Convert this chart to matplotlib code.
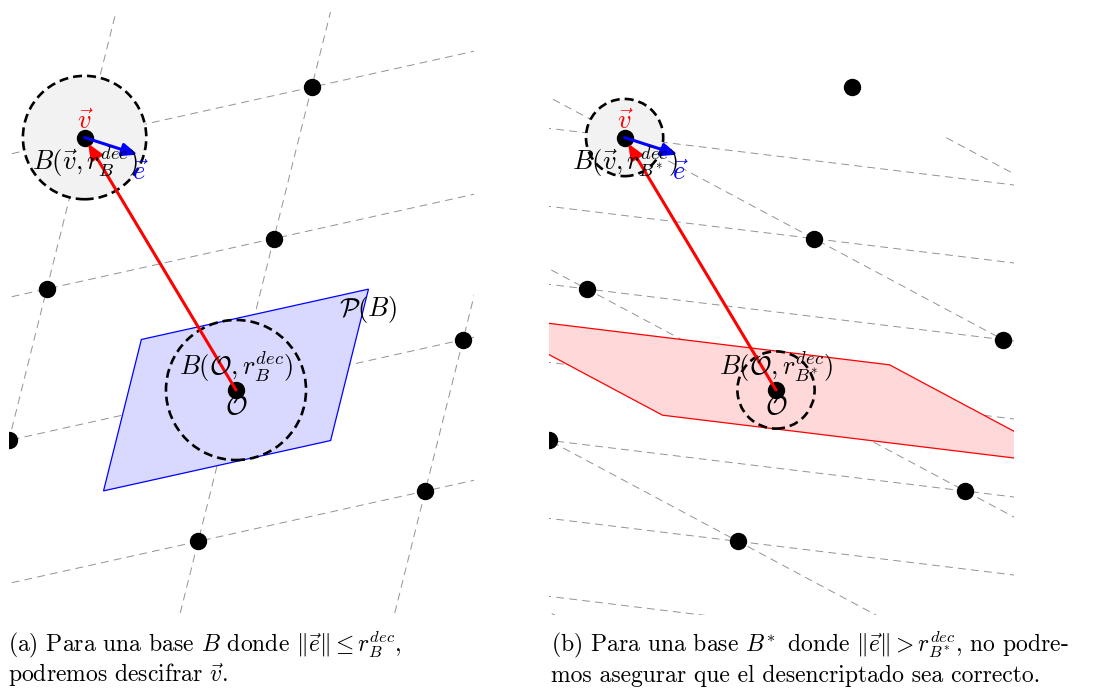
import matplotlib
matplotlib.use("Agg")
import matplotlib.pyplot as plt
import numpy as np
from matplotlib.patches import Polygon, Circle, Rectangle, FancyArrowPatch

plt.rcParams['mathtext.fontset'] = 'cm'
plt.rcParams['font.family'] = 'cmr10'
plt.rcParams['axes.formatter.use_mathtext'] = True
plt.rcParams['lines.scale_dashes'] = False

# lattice data (units: 1 unit ~ 1 cm of the original drawing)
good_b1 = np.array([1.0, 4.0])
good_b2 = np.array([6.0, 1.33])
# bad basis B* = {-b1 + b2, -b1 + 2 b2}, same lattice
bad_b1 = -good_b1 + good_b2
bad_b2 = -good_b1 + 2 * good_b2

lattice_idx = [-3, -2, -1, 0, 1, 2, 3]
line_extent = 3.5
v_coeffs = (2, -1)                 # v = 2 b1 - b2
e_vec = np.array([1.40, -0.45])    # error vector
clip_box = (-6.0, -5.95, 6.3, 10.0)

radius_good_O = 1.85
radius_good_v = 1.63
radius_bad = 1.02

caption_a = [r"(a) Para una base $B$ donde $\Vert\vec{e}\Vert \leq r_B^{dec}$,",
             r"podremos descifrar $\vec{v}$."]
caption_b = [r"(b) Para una base $B^{\!*}$ donde $\Vert\vec{e}\Vert > r_{B^{\!*}}^{dec}$, no podre-",
             r"mos asegurar que el desencriptado sea correcto."]

S = 37.85  # px per unit
FW, FH = 1093, 688
LABEL_FS = 19
CAP_FS = 17


def make_axes(fig, px_left, px_right, ox, oy, px_bottom=625):
    ax = fig.add_axes([px_left / FW, (FH - px_bottom) / FH,
                       (px_right - px_left) / FW, px_bottom / FH])
    ax.set_xlim((px_left - ox) / S, (px_right - ox) / S)
    ax.set_ylim((oy - px_bottom) / S, oy / S)
    ax.axis('off')
    return ax


def draw_panel(ax, basis, face, edge, r_O, r_v, rsub, poly_label=None):
    u, w = basis
    xmin, ymin, xmax, ymax = clip_box
    clip = Rectangle((xmin, ymin), xmax - xmin, ymax - ymin, transform=ax.transData)

    # grid lines of the basis
    t = np.array([-line_extent, line_extent])
    for k in lattice_idx:
        for a, c in ((u, w), (w, u)):
            pts = np.outer(t, a) + k * c
            ln, = ax.plot(pts[:, 0], pts[:, 1], color='#939393', lw=0.7,
                          dashes=(5.6, 3.8), zorder=1)
            ln.set_clip_path(clip)

    # fundamental parallelepiped centred in O
    verts = [-u / 2 - w / 2, u / 2 - w / 2, u / 2 + w / 2, -u / 2 + w / 2]
    poly = Polygon(verts, closed=True, facecolor=face, edgecolor=edge, lw=0.9, zorder=2)
    ax.add_patch(poly)
    poly.set_clip_path(clip)
    if poly_label:
        vx, vy = u / 2 + w / 2
        ax.text(vx, vy - 0.55, poly_label, ha='center', va='center', fontsize=LABEL_FS, zorder=6)

    v = v_coeffs[0] * good_b1 + v_coeffs[1] * good_b2

    ax.add_patch(Circle((0, 0), r_O, fill=False, ec='black', lw=1.9,
                        ls=(0, (6.5, 3.6)), zorder=3))
    ax.add_patch(Circle(v, r_v, facecolor='#f2f2f2', ec='black', lw=1.9,
                        ls=(0, (6.5, 3.6)), zorder=3))

    # lattice points
    pts = np.array([i * good_b1 + j * good_b2 for i in lattice_idx for j in lattice_idx])
    dots, = ax.plot(pts[:, 0], pts[:, 1], 'o', ms=11.5, color='black', zorder=5)
    dots.set_clip_path(clip)

    ax.add_patch(FancyArrowPatch(v, v + e_vec, arrowstyle='-|>,head_length=0.9,head_width=0.38',
                                 mutation_scale=10, color='blue', lw=2.2, shrinkA=0, shrinkB=0,
                                 zorder=6))
    ax.add_patch(FancyArrowPatch((0, 0), v, arrowstyle='-|>,head_length=0.9,head_width=0.38',
                                 mutation_scale=10, color='red', lw=2.2, shrinkA=0, shrinkB=5,
                                 zorder=7))

    ax.text(v[0], v[1] + 0.42, r"$\vec{v}$", color='red', ha='center', va='center',
            fontsize=LABEL_FS, zorder=8)
    ax.text(v[0], v[1] - 0.63, r"$B(\vec{v}, r_{%s}^{dec})$" % rsub, ha='center', va='center',
            fontsize=LABEL_FS, zorder=8)
    tip = v + e_vec
    ax.text(tip[0] + 0.05, tip[1] - 0.47, r"$\vec{e}$", color='blue', ha='center', va='center',
            fontsize=LABEL_FS, zorder=8)
    ax.text(0, 0.62, r"$B(\mathcal{O}, r_{%s}^{dec})$" % rsub, ha='center', va='center',
            fontsize=LABEL_FS, zorder=8)
    ax.text(0, -0.45, r"$\mathcal{O}$", ha='center', va='center', fontsize=LABEL_FS, zorder=8)


fig = plt.figure(figsize=(FW / 100, FH / 100), dpi=100)

ax1 = make_axes(fig, 0, 540, 236, 390)
draw_panel(ax1, (good_b1, good_b2), '#d9d9ff', 'blue', radius_good_O, radius_good_v, 'B',
           poly_label=r"$\mathcal{P}(B)$")

ax2 = make_axes(fig, 540, 1093, 776, 390)
draw_panel(ax2, (bad_b1, bad_b2), '#ffd9d9', 'red', radius_bad, radius_bad, r'B^{\!*}')

for x0, lines in ((8, caption_a), (551, caption_b)):
    for n, line in enumerate(lines):
        fig.text(x0 / FW, 1 - (652 + 30 * n) / FH, line, fontsize=CAP_FS, va='baseline', ha='left')

fig.savefig('out.png', dpi=100)
